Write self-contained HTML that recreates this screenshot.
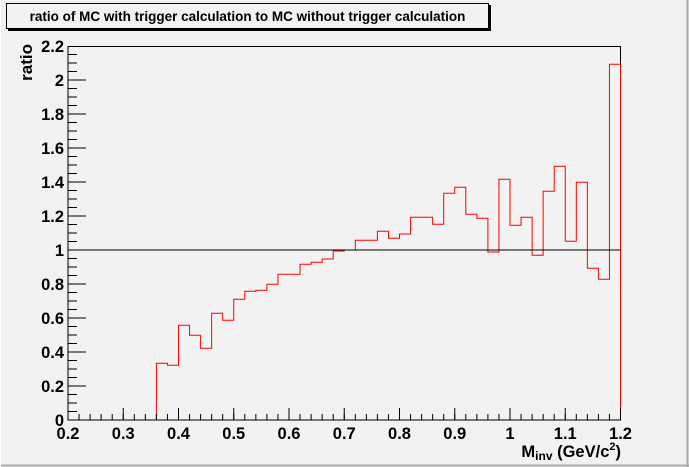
<!DOCTYPE html>
<html><head><style>html,body{margin:0;padding:0;background:#f2f2f2}svg{display:block}</style></head>
<body>
<svg width="689" height="467" xmlns="http://www.w3.org/2000/svg" font-family="Liberation Sans, sans-serif" font-weight="bold">
<rect x="0" y="0" width="689" height="467" fill="#f2f2f2"/>
<line x1="687.5" y1="0" x2="687.5" y2="467" stroke="#aaa" stroke-width="2"/>
<line x1="0" y1="465.5" x2="689" y2="465.5" stroke="#aaa" stroke-width="2"/>
<line x1="0.5" y1="0" x2="0.5" y2="467" stroke="#fff" stroke-width="1"/>
<rect x="8" y="5" width="483" height="26" fill="#000"/>
<rect x="6.5" y="3.5" width="482" height="25" fill="#f2f2f2" stroke="#000" stroke-width="1"/>
<text x="247.5" y="21" font-size="13.5" text-anchor="middle">ratio of MC with trigger calculation to MC without trigger calculation</text>
<rect x="68" y="46.5" width="552.5" height="373.5" fill="none" stroke="#000" stroke-width="1"/>
<path d="M156.4 420V363.3H167.45V365.3H178.5V325.3H189.55V335.3H200.6V348.3H211.65V313.3H222.7V320.3H233.75V299.3H244.8V291.3H255.85V290.3H266.9V284.3H277.95V274.3H300.05V264.3H311.1V262.3H322.15V259H333.2V251H344.25V250H355.3V240.3H377.4V231.3H388.45V238.3H399.5V234H410.55V217.3H432.65V224.3H443.7V193.3H454.75V187.3H465.8V214.3H476.85V218.3H487.9V252H498.95V179.3H510V225.3H521.05V217.3H532.1V255.3H543.15V191.3H554.2V166.3H565.25V241.3H576.3V182.3H587.35V268.3H598.4V279.3H609.45V64.3H620.5V420" fill="none" stroke="#f00" stroke-width="1"/>
<line x1="68" y1="250" x2="620.5" y2="250" stroke="#000" stroke-width="1"/>
<line x1="72.5" y1="420.5" x2="72.5" y2="46" stroke="#000" stroke-width="9" stroke-dasharray="1 7.5"/>
<line x1="77" y1="420.5" x2="77" y2="46" stroke="#000" stroke-width="18" stroke-dasharray="1 33"/>
<line x1="67.5" y1="417" x2="621" y2="417" stroke="#000" stroke-width="6" stroke-dasharray="1 10.05"/>
<line x1="67.5" y1="414" x2="621" y2="414" stroke="#000" stroke-width="12" stroke-dasharray="1 54.25"/>
<g font-size="16.5" text-anchor="end">
<text x="64" y="426">0</text>
<text x="64" y="392">0.2</text>
<text x="64" y="358">0.4</text>
<text x="64" y="324">0.6</text>
<text x="64" y="290">0.8</text>
<text x="64" y="256">1</text>
<text x="64" y="222">1.2</text>
<text x="64" y="188">1.4</text>
<text x="64" y="154">1.6</text>
<text x="64" y="120">1.8</text>
<text x="64" y="86">2</text>
<text x="64" y="52">2.2</text>
</g>
<g font-size="16.5" text-anchor="middle">
<text x="68" y="439">0.2</text>
<text x="123.25" y="439">0.3</text>
<text x="178.5" y="439">0.4</text>
<text x="233.75" y="439">0.5</text>
<text x="289" y="439">0.6</text>
<text x="344.25" y="439">0.7</text>
<text x="399.5" y="439">0.8</text>
<text x="454.75" y="439">0.9</text>
<text x="510" y="439">1</text>
<text x="565.25" y="439">1.1</text>
<text x="620.5" y="439">1.2</text>
</g>
<text x="621" y="457" font-size="16.5" text-anchor="end">M<tspan font-size="12" dy="3">inv</tspan><tspan dy="-3"> (GeV/c</tspan><tspan font-size="11" dy="-7">2</tspan><tspan dy="7">)</tspan></text>
<text transform="translate(32,44) rotate(-90)" font-size="17" text-anchor="end">ratio</text>
</svg>
</body></html>
